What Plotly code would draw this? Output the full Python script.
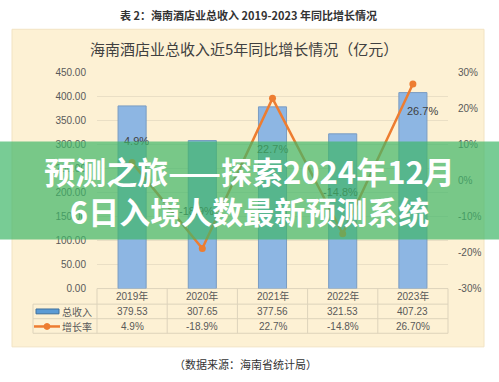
import plotly.graph_objects as go

years = ["2019年", "2020年", "2021年", "2022年", "2023年"]
revenue = [379.53, 307.65, 377.56, 321.53, 407.23]
growth = [4.9, -18.9, 22.7, -14.8, 26.7]
revenue_text = ["379.53", "307.65", "377.56", "321.53", "407.23"]
growth_table_text = ["4.9%", "-18.9%", "22.7%", "-14.8%", "26.70%"]
growth_label_text = ["4.9%", "-18.9%", "22.7%", "-14.8%", "26.7%"]
left_ticks = [0, 50, 100, 150, 200, 250, 300, 350, 400, 450]
right_ticks = [-30, -20, -10, 0, 10, 20, 30]
right_tick_text = ["-30%", "-20%", "-10%", "0%", "10%", "20%", "30%"]

W, H = 499, 382
def px(x): return x / W
def py(y): return 1 - y / H

FONT = "Liberation Sans, Noto Sans CJK SC, sans-serif"
CJK = "Noto Sans CJK SC, sans-serif"
GREY = "#595959"

fig = go.Figure()
fig.add_trace(go.Bar(
    x=years, y=revenue, width=0.4,
    marker=dict(color="#8db6e3", line=dict(color="#7a9cc2", width=1)),
    name="总收入", yaxis="y", showlegend=False, hoverinfo="skip"))
fig.add_trace(go.Scatter(
    x=years, y=growth, mode="lines+markers", yaxis="y2",
    line=dict(color="#ed7d31", width=2.5),
    marker=dict(color="#ed7d31", size=7), name="增长率", showlegend=False,
    hoverinfo="skip"))

shapes = []
shapes.append(dict(type="rect", xref="paper", yref="paper", x0=px(12), x1=px(484),
                   y0=py(352), y1=py(25), fillcolor="#fdf1d4",
                   line=dict(color="#f2e3c2", width=1), layer="below"))
gl = dict(color="#ddd3bb", width=1)
row_y = [292, 308, 323, 338]
for i, yv in enumerate(row_y):
    x0 = 97 if i == 0 else 33
    shapes.append(dict(type="line", xref="paper", yref="paper", x0=px(x0), x1=px(448),
                       y0=py(yv), y1=py(yv), line=gl, layer="below"))
for xv in [97, 167.2, 237.4, 307.6, 377.8, 448]:
    shapes.append(dict(type="line", xref="paper", yref="paper", x0=px(xv), x1=px(xv),
                       y0=py(292), y1=py(338), line=gl, layer="below"))
shapes.append(dict(type="line", xref="paper", yref="paper", x0=px(33), x1=px(33),
                   y0=py(308), y1=py(338), line=gl, layer="below"))
shapes.append(dict(type="rect", xref="paper", yref="paper", x0=px(36), x1=px(59),
                   y0=py(318), y1=py(313), fillcolor="#5b9bd5",
                   line=dict(color="#41719c", width=1)))
shapes.append(dict(type="line", xref="paper", yref="paper", x0=px(34), x1=px(60),
                   y0=py(331), y1=py(331), line=dict(color="#ed7d31", width=2.5)))
shapes.append(dict(type="circle", xref="paper", yref="paper", x0=px(44), x1=px(50),
                   y0=py(334), y1=py(328), fillcolor="#ed7d31",
                   line=dict(color="#ed7d31", width=1)))

ann = []
def pann(text, x, y, size, color="#333333", family=CJK):
    ann.append(dict(text=text, xref="paper", yref="paper", x=px(x), y=py(y),
                    xanchor="center", yanchor="middle", showarrow=False,
                    font=dict(family=family, size=size, color=color)))

pann("<b>表 2：海南酒店业总收入 2019-2023 年同比增长情况</b>", 248, 10, 11)
pann("海南酒店业总收入近5年同比增长情况（亿元）", 244, 45, 15, "#404040")
pann("（数据来源：海南省统计局）", 245, 370, 11)
pann("总收入", 77, 316, 10, GREY)
pann("增长率", 77, 331, 10, GREY)
for i, yr in enumerate(years):
    for txt, yy in ((yr, 300), (revenue_text[i], 316), (growth_table_text[i], 331)):
        ann.append(dict(text=txt, x=yr, xref="x", yref="paper", y=py(yy),
                        yanchor="middle", showarrow=False,
                        font=dict(family=FONT, size=10, color=GREY)))
offsets = [(4, 22), (-6, 38), (0, -51), (-2, 42), (10, -27)]
for i, yr in enumerate(years):
    dx, dy = offsets[i]
    ann.append(dict(text=growth_label_text[i], x=yr, y=growth[i], xref="x", yref="y2",
                    showarrow=False, xshift=dx, yshift=dy, yanchor="middle",
                    font=dict(family=FONT, size=11, color="#404040")))
ann.append(dict(text="预测之旅——探索2024年12月<br>6日入境人数最新预测系统",
                xref="paper", yref="paper", x=0.5, y=py(190.5), xanchor="center",
                yanchor="middle", valign="middle", showarrow=False,
                width=W + 4, height=97, borderpad=0, bgcolor="rgba(62,182,104,0.70)",
                font=dict(family=CJK, size=31, color="white", weight="bold")))

fig.update_layout(
    width=W, height=H, autosize=False,
    margin=dict(l=0, r=0, t=0, b=0),
    paper_bgcolor="white", plot_bgcolor="rgba(0,0,0,0)",
    xaxis=dict(domain=[px(97), px(448)], range=[-0.5, 4.5], type="category",
               showticklabels=False, showgrid=False, zeroline=False, showline=False),
    yaxis=dict(domain=[py(292), py(69)], range=[0, 450], tickvals=left_ticks,
               tickformat=".2f", showgrid=True, gridcolor="#eadfc5", gridwidth=1,
               zeroline=False, showline=False, ticks="outside", ticklen=8,
               tickcolor="rgba(0,0,0,0)",
               tickfont=dict(family=FONT, size=10, color=GREY)),
    yaxis2=dict(overlaying="y", side="right", range=[-30, 30], tickvals=right_ticks,
                ticktext=right_tick_text, showgrid=False, zeroline=False, showline=False,
                ticks="outside", ticklen=7, tickcolor="rgba(0,0,0,0)",
                tickfont=dict(family=FONT, size=10, color=GREY)),
    shapes=shapes, annotations=ann,
)

fig.write_html("out.html", config={"displayModeBar": False},
               post_script="document.body.style.margin='0';document.body.style.overflow='hidden';")
